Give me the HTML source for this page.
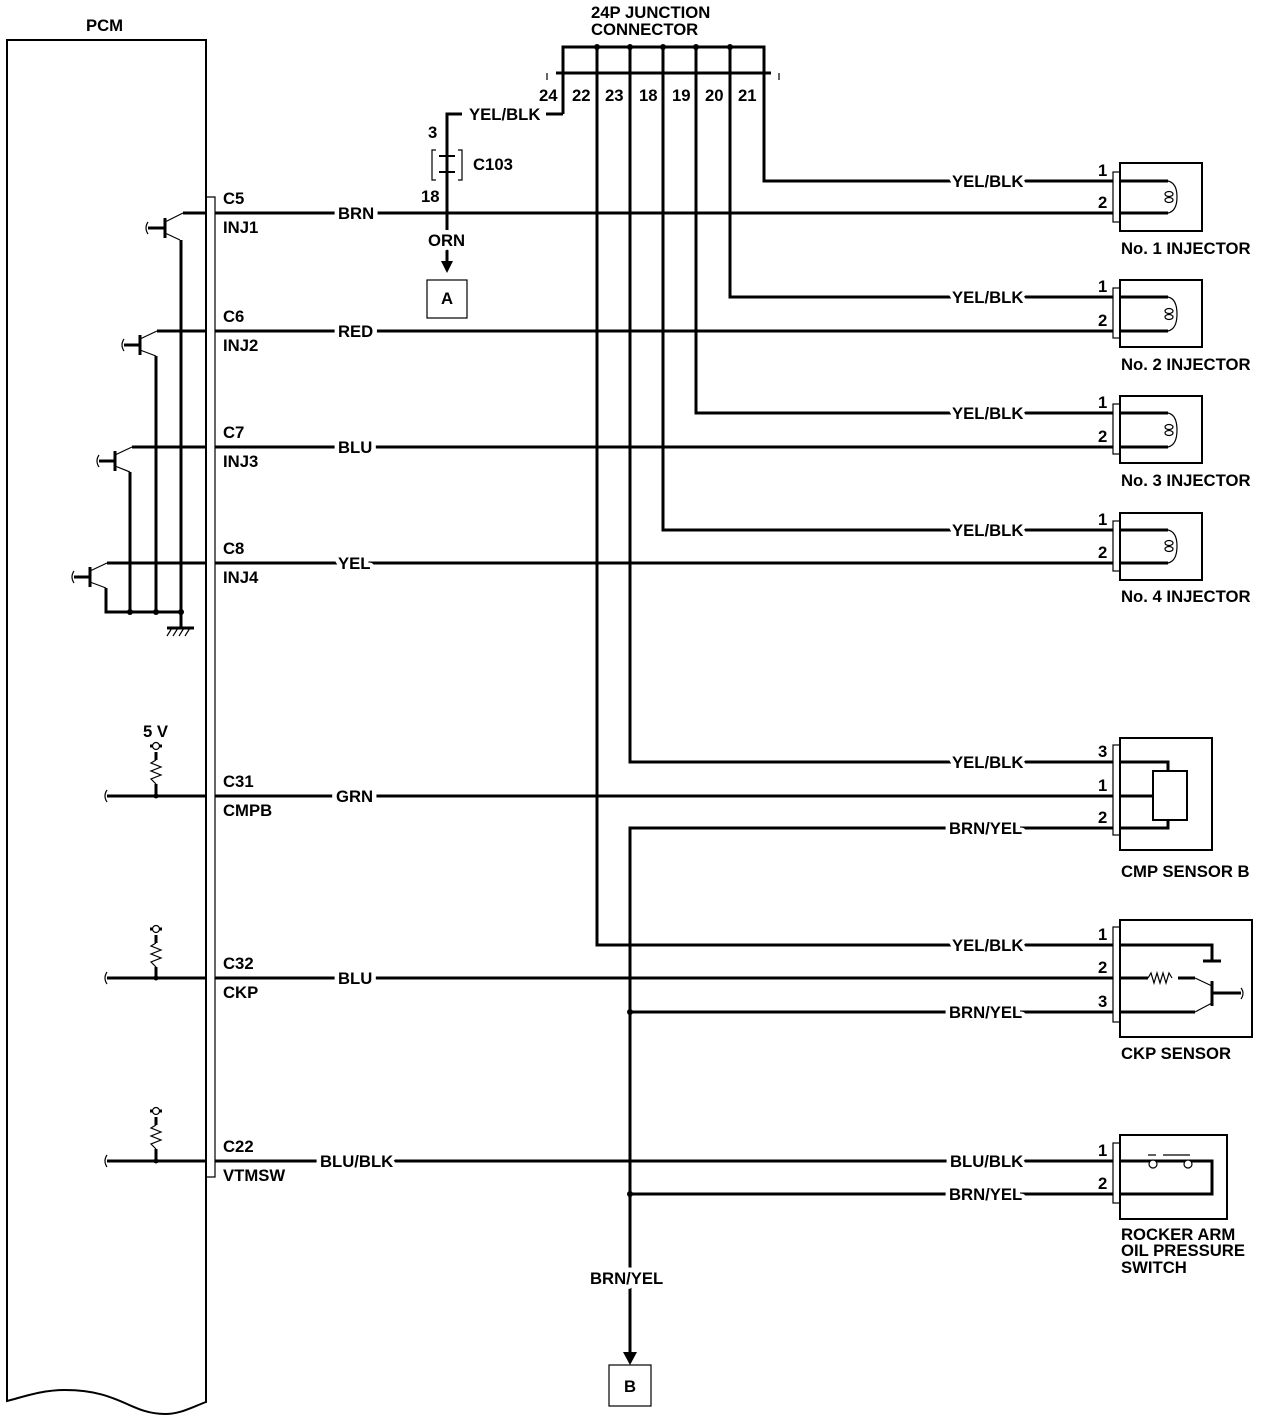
<!DOCTYPE html>
<html><head><meta charset="utf-8"><style>
html,body{margin:0;padding:0;background:#fff}
svg{display:block}
text{font-family:"Liberation Sans",Arial,sans-serif;font-size:16.7px;font-weight:bold;fill:#000}
.m{stroke:#fff;stroke-width:9px;paint-order:stroke;stroke-linejoin:round}
</style></head><body>
<svg width="1280" height="1424" viewBox="0 0 1280 1424" xmlns="http://www.w3.org/2000/svg">
<g fill="none" stroke="#000">
<path d="M7 40 H206 V1402 C190 1408 180 1414 165 1414 C130 1414 120 1390 65 1390 C40 1390 20 1398 7 1401 Z" stroke-width="2"/>
<path d="M207 197 H215 V1177 H207" stroke-width="1.2"/>
<g stroke-width="3">
<line x1="183" y1="213" x2="207" y2="213"/><line x1="215" y1="213" x2="1113" y2="213"/>
<line x1="157" y1="331" x2="207" y2="331"/><line x1="215" y1="331" x2="1113" y2="331"/>
<line x1="132" y1="447" x2="207" y2="447"/><line x1="215" y1="447" x2="1113" y2="447"/>
<line x1="107" y1="563" x2="207" y2="563"/><line x1="215" y1="563" x2="1113" y2="563"/>
<line x1="107" y1="796" x2="207" y2="796"/><line x1="215" y1="796" x2="1113" y2="796"/>
<line x1="107" y1="978" x2="207" y2="978"/><line x1="215" y1="978" x2="1113" y2="978"/>
<line x1="107" y1="1161" x2="207" y2="1161"/><line x1="215" y1="1161" x2="1113" y2="1161"/>
<path d="M181 240 V612"/><path d="M156 356 V612"/><path d="M130 472 V612"/><path d="M106 588 V612 H181 V628"/>
<line x1="167" y1="628" x2="194" y2="628"/>
<line x1="165" y1="218" x2="165" y2="238"/><line x1="148" y1="228" x2="165" y2="228"/>
<line x1="140" y1="335" x2="140" y2="355"/><line x1="124" y1="345" x2="140" y2="345"/>
<line x1="115" y1="451" x2="115" y2="471"/><line x1="99" y1="461" x2="115" y2="461"/>
<line x1="90" y1="567" x2="90" y2="587"/><line x1="74" y1="577" x2="90" y2="577"/>
<path d="M563 114 V47 H764 V181 H1113"/>
<line x1="556" y1="73" x2="771" y2="73"/>
<path d="M730 47 V297 H1113"/><path d="M696 47 V413 H1113"/><path d="M663 47 V530 H1113"/>
<path d="M630 47 V762 H1113"/><path d="M597 47 V945 H1113"/>
<path d="M563 114 H546"/><path d="M462 114 H447 V262"/>
<path d="M439 156 H455 M447 156 V172 M439 172 H455" stroke-width="2"/>
<path d="M1113 828 H630 V1355"/>
<path d="M630 1012 H1113"/><path d="M630 1194 H1113"/>
<path d="M1120 181 H1168 M1120 213 H1168"/>
<path d="M1120 297 H1168 M1120 331 H1168"/>
<path d="M1120 413 H1168 M1120 447 H1168"/>
<path d="M1120 530 H1168 M1120 563 H1168"/>
<path d="M1120 762 H1168 V771 M1120 796 H1153 M1120 828 H1168 V820"/>
<path d="M1120 945 H1212 V960 M1203 961 H1221"/>
<path d="M1120 978 H1148 M1178 978 H1195"/>
<path d="M1120 1012 H1195"/>
<path d="M1212 981 V1006 M1212 993 H1241"/>
<path d="M1120 1161 H1212 V1194 H1120"/>
<path d="M156 752 V760 M156 784 V796 M150 746 H162"/>
<path d="M156 935 V943 M156 967 V978 M150 929 H162"/>
<path d="M156 1117 V1125 M156 1149 V1161 M150 1111 H162"/>
</g>
<g stroke-width="1.2">
<path d="M165 222 L183 213 M165 233 L180 240"/>
<path d="M140 339 L157 331 M140 350 L156 356"/>
<path d="M115 455 L132 447 M115 466 L130 472"/>
<path d="M90 571 L107 563 M90 582 L106 588"/>
<path d="M148 222 Q144 228 148 234 M124 339 Q120 345 124 351 M99 455 Q95 461 99 467 M74 571 Q70 577 74 583"/>
<path d="M107 790 Q103 796 107 802 M107 972 Q103 978 107 984 M107 1155 Q103 1161 107 1167"/>
<path d="M172 628 L167 636 M178 628 L173 636 M184 628 L179 636 M190 628 L185 636"/>
<path d="M547 80 V73 M779 80 V73"/>
<path d="M436 150 H432 V180 H436 M458 150 H462 V180 H458"/>
<path d="M156 760 l-5 3 l10 4 l-10 4 l10 4 l-10 4 l5 5"/>
<path d="M156 943 l-5 3 l10 4 l-10 4 l10 4 l-10 4 l5 5"/>
<path d="M156 1125 l-5 3 l10 4 l-10 4 l10 4 l-10 4 l5 5"/>
<circle cx="156" cy="746" r="3.5" fill="#fff"/><circle cx="156" cy="929" r="3.5" fill="#fff"/><circle cx="156" cy="1111" r="3.5" fill="#fff"/>
<rect x="1113" y="172" width="7" height="50"/><rect x="1120" y="163" width="82" height="68" stroke-width="2"/>
<rect x="1113" y="288" width="7" height="50"/><rect x="1120" y="280" width="82" height="67" stroke-width="2"/>
<rect x="1113" y="404" width="7" height="50"/><rect x="1120" y="396" width="82" height="67" stroke-width="2"/>
<rect x="1113" y="521" width="7" height="50"/><rect x="1120" y="513" width="82" height="67" stroke-width="2"/>
<path d="M1168 181 Q1177 183 1177 197 Q1177 211 1168 213 M1168 297 Q1177 299 1177 314 Q1177 329 1168 331 M1168 413 Q1177 415 1177 430 Q1177 445 1168 447 M1168 530 Q1177 532 1177 546 Q1177 561 1168 563"/>
<ellipse cx="1169" cy="194" rx="4" ry="2.5"/><ellipse cx="1169" cy="200" rx="4" ry="2.5"/>
<ellipse cx="1169" cy="311" rx="4" ry="2.5"/><ellipse cx="1169" cy="317" rx="4" ry="2.5"/>
<ellipse cx="1169" cy="427" rx="4" ry="2.5"/><ellipse cx="1169" cy="433" rx="4" ry="2.5"/>
<ellipse cx="1169" cy="543" rx="4" ry="2.5"/><ellipse cx="1169" cy="549" rx="4" ry="2.5"/>
<rect x="1113" y="745" width="7" height="90"/><rect x="1120" y="738" width="92" height="112" stroke-width="2"/>
<rect x="1153" y="771" width="34" height="49" stroke-width="2"/>
<rect x="1113" y="927" width="7" height="95"/><rect x="1120" y="920" width="132" height="117" stroke-width="2"/>
<path d="M1148 978 l3 -5 l3 10 l3 -10 l3 10 l3 -10 l3 10 l3 -10 l3 5"/>
<path d="M1195 978 L1212 986 M1195 1012 L1212 1003 M1241 988 Q1245 993 1241 999"/>
<rect x="1113" y="1143" width="7" height="60"/><rect x="1120" y="1135" width="107" height="84" stroke-width="2"/>
<path d="M1148 1155 H1156 M1163 1155 H1190"/>
<circle cx="1153" cy="1164" r="4" fill="#fff"/><circle cx="1188" cy="1164" r="4" fill="#fff"/>
<rect x="427" y="280" width="40" height="38"/>
<rect x="609" y="1365" width="42" height="41"/>
</g>
</g>
<g fill="#000">
<circle cx="597" cy="47" r="3"/><circle cx="630" cy="47" r="3"/><circle cx="663" cy="47" r="3"/><circle cx="696" cy="47" r="3"/><circle cx="730" cy="47" r="3"/>
<circle cx="630" cy="1012" r="3"/><circle cx="630" cy="1194" r="3"/>
<circle cx="130" cy="612" r="3"/><circle cx="156" cy="612" r="3"/><circle cx="181" cy="612" r="3"/>
<circle cx="156" cy="796" r="2.5"/><circle cx="156" cy="978" r="2.5"/><circle cx="156" cy="1161" r="2.5"/>
<path d="M441 261 H453 L447 273 Z"/>
<path d="M623 1352 H637 L630 1365 Z"/>
</g>
<text x="86" y="31">PCM</text>
<text x="591" y="18">24P JUNCTION</text><text x="591" y="35">CONNECTOR</text>
<text x="539" y="101">24</text><text x="572" y="101">22</text><text x="605" y="101">23</text><text x="639" y="101">18</text><text x="672" y="101">19</text><text x="705" y="101">20</text><text x="738" y="101">21</text>
<text x="469" y="120">YEL/BLK</text>
<text x="428" y="138">3</text><text x="473" y="170">C103</text><text x="421" y="202">18</text>
<text x="428" y="246" class="m">ORN</text><text x="441" y="304">A</text><text x="624" y="1392">B</text>
<text x="223" y="204">C5</text><text x="223" y="233">INJ1</text>
<text x="223" y="322">C6</text><text x="223" y="351">INJ2</text>
<text x="223" y="438">C7</text><text x="223" y="467">INJ3</text>
<text x="223" y="554">C8</text><text x="223" y="583">INJ4</text>
<text x="223" y="787">C31</text><text x="223" y="816">CMPB</text>
<text x="223" y="969">C32</text><text x="223" y="998">CKP</text>
<text x="223" y="1152">C22</text><text x="223" y="1181">VTMSW</text>
<text x="143" y="737">5 V</text>
<text x="338" y="219" class="m">BRN</text><text x="338" y="337" class="m">RED</text><text x="338" y="453" class="m">BLU</text><text x="338" y="569" class="m">YEL</text>
<text x="336" y="802" class="m">GRN</text><text x="338" y="984" class="m">BLU</text><text x="320" y="1167" class="m">BLU/BLK</text>
<text x="952" y="187" class="m">YEL/BLK</text><text x="952" y="303" class="m">YEL/BLK</text><text x="952" y="419" class="m">YEL/BLK</text><text x="952" y="536" class="m">YEL/BLK</text>
<text x="952" y="768" class="m">YEL/BLK</text><text x="949" y="834" class="m">BRN/YEL</text>
<text x="952" y="951" class="m">YEL/BLK</text><text x="949" y="1018" class="m">BRN/YEL</text>
<text x="950" y="1167" class="m">BLU/BLK</text><text x="949" y="1200" class="m">BRN/YEL</text>
<text x="590" y="1284" class="m">BRN/YEL</text>
<text x="1098" y="176">1</text><text x="1098" y="208">2</text><text x="1098" y="292">1</text><text x="1098" y="326">2</text>
<text x="1098" y="408">1</text><text x="1098" y="442">2</text><text x="1098" y="525">1</text><text x="1098" y="558">2</text>
<text x="1098" y="757">3</text><text x="1098" y="791">1</text><text x="1098" y="823">2</text>
<text x="1098" y="940">1</text><text x="1098" y="973">2</text><text x="1098" y="1007">3</text>
<text x="1098" y="1156">1</text><text x="1098" y="1189">2</text>
<text x="1121" y="254">No. 1 INJECTOR</text><text x="1121" y="370">No. 2 INJECTOR</text><text x="1121" y="486">No. 3 INJECTOR</text><text x="1121" y="602">No. 4 INJECTOR</text>
<text x="1121" y="877">CMP SENSOR B</text><text x="1121" y="1059">CKP SENSOR</text>
<text x="1121" y="1240">ROCKER ARM</text><text x="1121" y="1256">OIL PRESSURE</text><text x="1121" y="1273">SWITCH</text>
</svg>
</body></html>
